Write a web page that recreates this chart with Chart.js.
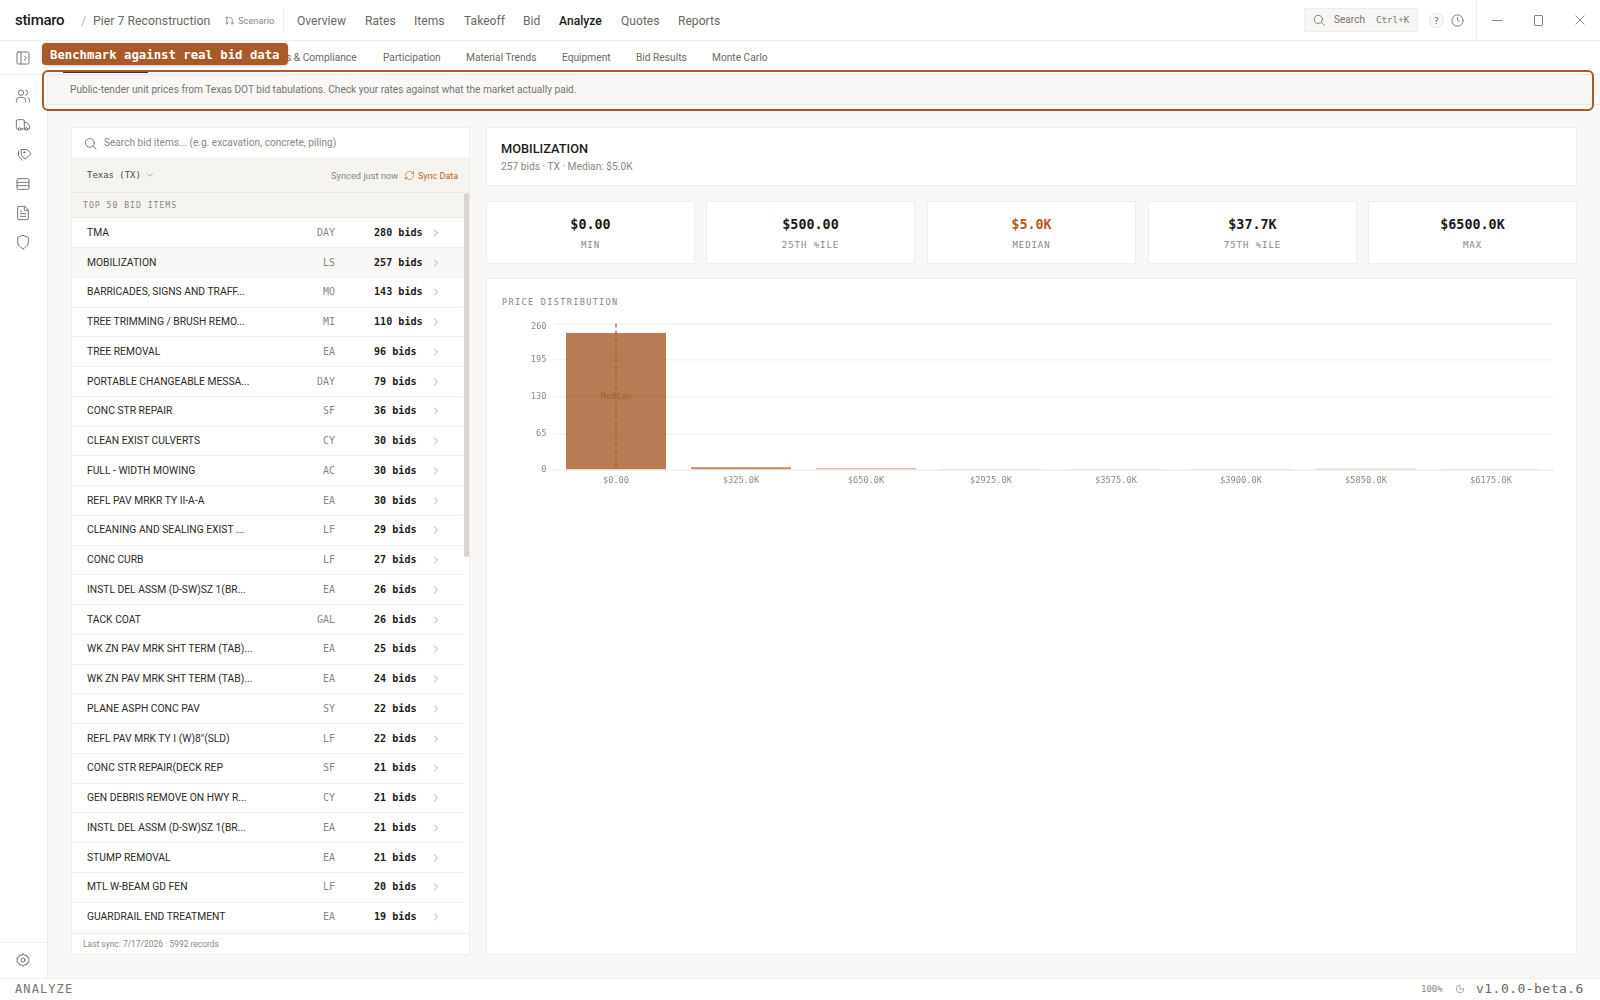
<!DOCTYPE html>
<html>
<head>
<meta charset="utf-8">
<title>Analyze - Bid Benchmark</title>
<script src="https://cdn.jsdelivr.net/npm/chart.js@4"></script>
<style>
  html, body { margin: 0; padding: 0; background: #f9f8f6; }
  #app { position: relative; width: 1600px; height: 1000px; overflow: hidden; font-family: Roboto, "Noto Sans", sans-serif; color: #1c1b19; }
  .box { position: absolute; box-sizing: border-box; }
  .t { position: absolute; white-space: nowrap; line-height: 16px; height: 16px; }
  .mono { font-family: "DejaVu Sans Mono", "Liberation Mono", monospace; }
  .card { background: #fff; border: 1px solid #efeeeb; }
  svg.ic { position: absolute; fill: none; stroke: #6f6c67; stroke-width: 1.4; stroke-linecap: round; stroke-linejoin: round; }
  #chartWrap { position: absolute; left: 490px; top: 310px; width: 1080px; height: 190px; }
</style>
</head>
<body>
<div id="app">
  <div id="chartWrap"><canvas id="priceChart"></canvas></div>
</div>
<script>
// chart data
const binLabels = ['$0.00', '$325.0K', '$650.0K', '$2925.0K', '$3575.0K', '$3900.0K', '$5850.0K', '$6175.0K'];
const binCounts = [243, 5, 3, 1, 1, 1, 2, 1];
const binOpacity = [0.8, 0.7, 0.55, 0.3, 0.3, 0.3, 0.5, 0.3];
const yTicks = [0, 65, 130, 195, 260];
const medianBin = '$0.00';

// side list
const itemNames = ['TMA', 'MOBILIZATION', 'BARRICADES, SIGNS AND TRAFF...', 'TREE TRIMMING / BRUSH REMO...', 'TREE REMOVAL',
  'PORTABLE CHANGEABLE MESSA...', 'CONC STR REPAIR', 'CLEAN EXIST CULVERTS', 'FULL - WIDTH MOWING', 'REFL PAV MRKR TY II-A-A',
  'CLEANING AND SEALING EXIST ...', 'CONC CURB', 'INSTL DEL ASSM (D-SW)SZ 1(BR...', 'TACK COAT', 'WK ZN PAV MRK SHT TERM (TAB)...',
  'WK ZN PAV MRK SHT TERM (TAB)...', 'PLANE ASPH CONC PAV', 'REFL PAV MRK TY I (W)8"(SLD)', 'CONC STR REPAIR(DECK REP',
  'GEN DEBRIS REMOVE ON HWY R...', 'INSTL DEL ASSM (D-SW)SZ 1(BR...', 'STUMP REMOVAL', 'MTL W-BEAM GD FEN', 'GUARDRAIL END TREATMENT'];
const itemUnits = ['DAY', 'LS', 'MO', 'MI', 'EA', 'DAY', 'SF', 'CY', 'AC', 'EA', 'LF', 'LF', 'EA', 'GAL', 'EA', 'EA', 'SY', 'LF', 'SF', 'CY', 'EA', 'EA', 'LF', 'EA'];
const itemBids = [280, 257, 143, 110, 96, 79, 36, 30, 30, 30, 29, 27, 26, 26, 25, 24, 22, 22, 21, 21, 21, 21, 20, 19];

// stat cards
const statValues = ['$0.00', '$500.00', '$5.0K', '$37.7K', '$6500.0K'];
const statLabels = ['MIN', '25TH %ILE', 'MEDIAN', '75TH %ILE', 'MAX'];

const app = document.getElementById('app');
const ACCENT = '#a85a28';
const MONO = '"DejaVu Sans Mono", "Liberation Mono", monospace';

function box(x, y, w, h, css, cls) {
  const d = document.createElement('div');
  d.className = 'box ' + (cls || '');
  d.style.cssText = `left:${x}px;top:${y}px;width:${w}px;height:${h}px;${css || ''}`;
  app.appendChild(d);
  return d;
}
// y is the vertical centre of the line, align l/c/r is relative to x
function txt(s, x, y, css, cls, align) {
  const d = document.createElement('div');
  d.className = 't ' + (cls || '');
  d.textContent = s;
  const shift = align === 'c' ? 'translateX(-50%)' : align === 'r' ? 'translateX(-100%)' : 'none';
  d.style.cssText = `left:${x}px;top:${y - 8}px;transform:${shift};${css || ''}`;
  app.appendChild(d);
  return d;
}
function icon(paths, cx, cy, size, css) {
  const s = size || 16;
  const wrap = document.createElement('div');
  wrap.innerHTML = `<svg class="ic" viewBox="0 0 24 24" width="${s}" height="${s}" style="left:${cx - s / 2}px;top:${cy - s / 2}px;${css || ''}">${paths}</svg>`;
  app.appendChild(wrap.firstChild);
}

// top bar
box(0, 0, 1600, 41, 'background:#fff;border-bottom:1px solid #eeedea');
txt('stimaro', 15, 20, 'font-size:15px;font-weight:500;letter-spacing:-.3px;color:#1c1b19');
txt('/', 81, 21, 'font-size:13px;color:#bbb');
txt('Pier 7 Reconstruction', 93, 21, 'font-size:12.3px;color:#6b6863');
icon('<circle cx="6" cy="6" r="2"/><circle cx="6" cy="18" r="2"/><circle cx="18" cy="18" r="2"/><path d="M6 8v8M18 16V9a3 3 0 0 0-3-3h-3"/>', 229, 20, 11);
txt('Scenario', 238, 21, 'font-size:9.3px;color:#8a8781');
box(283, 9, 1, 23, 'background:#eeedea');
const navNames = ['Overview', 'Rates', 'Items', 'Takeoff', 'Bid', 'Analyze', 'Quotes', 'Reports'];
const navX = [297, 365, 414, 464, 523, 559, 621, 678];
navNames.forEach((n, i) => txt(n, navX[i], 21, 'font-size:12.1px;' + (n === 'Analyze' ? 'font-weight:500;color:#1c1b19' : 'color:#6b6863')));

box(1304, 8, 114, 24, 'background:#f7f6f4;border:1px solid #efeeeb');
icon('<circle cx="11" cy="11" r="7"/><path d="M21 21l-4.5-4.5"/>', 1319, 20, 14);
txt('Search', 1334, 20, 'font-size:10.1px;color:#77746e');
txt('Ctrl+K', 1376, 20, 'font-size:9.2px;color:#77746e', 'mono');
box(1429, 13, 15, 15, 'border:1px solid #e6e5e2;border-radius:50%;background:#faf9f8');
txt('?', 1436.5, 20.5, 'font-size:9px;color:#6b6863', 'mono', 'c');
icon('<circle cx="12" cy="12" r="9"/><path d="M12 7v5l3 2"/>', 1457, 20, 15);
box(1476, 0, 1, 40, 'background:#eeedea');
box(1492, 20, 10, 1, 'background:#8a8781');
box(1534, 15, 9, 11, 'border:1px solid #8a8781;border-radius:1px');
icon('<path d="M5 5l14 14M19 5L5 19"/>', 1580, 20, 14);

// sub tabs + rail
box(0, 41, 1600, 34, 'background:#fff;border-bottom:1px solid #eeedea');
box(63, 71, 85, 2, 'background:#3a3835');
const tabNames = ['s & Compliance', 'Participation', 'Material Trends', 'Equipment', 'Bid Results', 'Monte Carlo'];
const tabX = [286, 383, 466, 562, 636, 712];
tabNames.forEach((n, i) => txt(n, tabX[i], 57.5, 'font-size:10.2px;color:#6b6863'));

box(0, 75, 48, 903, 'background:#fff;border-right:1px solid #eeedea');
box(0, 942, 47, 1, 'background:#eeedea');
icon('<rect x="3" y="3" width="18" height="18" rx="2"/><path d="M9 3v18M14 9l3 3-3 3"/>', 23, 57.5, 16);
icon('<circle cx="9" cy="7" r="4"/><path d="M2 21v-2a5 5 0 0 1 5-5h4a5 5 0 0 1 5 5v2M16 3.1a4 4 0 0 1 0 7.8M22 21v-2a5 5 0 0 0-3-4.6"/>', 23, 96, 16);
icon('<path d="M14 18V6a2 2 0 0 0-2-2H4a2 2 0 0 0-2 2v11a1 1 0 0 0 1 1h2M15 18H9M19 18h2a1 1 0 0 0 1-1v-3.6a1 1 0 0 0-.2-.6l-3.5-4.4a1 1 0 0 0-.8-.4H14"/><circle cx="7" cy="18" r="2"/><circle cx="17" cy="18" r="2"/>', 23, 125, 16);
icon('<path d="M9 5l7.5 0a2 2 0 0 1 1.4.6l3.5 3.5a2 2 0 0 1 0 2.8l-5.6 5.6a2 2 0 0 1-2.8 0L9.6 14A2 2 0 0 1 9 12.6z"/><path d="M5 7v6.5a2 2 0 0 0 .6 1.4l5 5"/><circle cx="13" cy="9" r="1"/>', 23, 154, 17);
icon('<rect x="3" y="4" width="18" height="16" rx="2"/><path d="M3 9.5h18M3 14.5h18"/>', 23, 183.5, 16);
icon('<path d="M14 2H6a2 2 0 0 0-2 2v16a2 2 0 0 0 2 2h12a2 2 0 0 0 2-2V8z"/><path d="M14 2v6h6M16 13H8M16 17H8M10 9H8"/>', 23, 212.5, 16);
icon('<path d="M12 22s8-3 8-10V5l-8-3-8 3v7c0 7 8 10 8 10z"/>', 23, 242, 16);
icon('<circle cx="12" cy="12" r="3"/><path d="M12 2.5l2 2.6 3.2-.6 1 3.1 3 1.2-.9 3.2.9 3.2-3 1.2-1 3.1-3.2-.6-2 2.6-2-2.6-3.2.6-1-3.1-3-1.2.9-3.2-.9-3.2 3-1.2 1-3.1 3.2.6z"/>', 23, 960, 16);

// banner with highlight ring
box(48, 74, 1552, 31, 'background:#f9f8f6;border-top:1px solid #e9e8e5;border-bottom:1px solid #e9e8e5');
txt('Public-tender unit prices from Texas DOT bid tabulations. Check your rates against what the market actually paid.', 70, 89.5, 'font-size:10.15px;color:#77746e');
box(42, 70, 1552, 41, `border:2px solid ${ACCENT};border-radius:6px`);
box(42, 43, 246, 22, `background:${ACCENT};border-radius:4px;box-shadow:0 1px 3px rgba(0,0,0,.2)`);
txt('Benchmark against real bid data', 50, 54.5, 'font-size:12.3px;font-weight:700;color:#fff', 'mono');

// list panel
box(71, 127, 399, 828, '', 'card');
icon('<circle cx="11" cy="11" r="7"/><path d="M21 21l-4.5-4.5"/>', 90, 143, 15);
txt('Search bid items... (e.g. excavation, concrete, piling)', 104, 143, 'font-size:10.1px;color:#8a8781');
box(72, 157, 397, 60, 'background:#f5f4f1');
box(72, 192, 392, 1, 'background:#e9e8e5');
box(72, 217, 392, 1, 'background:#e9e8e5');
txt('Texas (TX)', 87, 174.5, 'font-size:8.95px;color:#4d4b47', 'mono');
icon('<path d="M6 9l6 6 6-6"/>', 150, 174.5, 10);
txt('Synced just now', 331, 176, 'font-size:9.3px;color:#8a8781');
icon('<path d="M3 12a9 9 0 0 1 15-6.7L21 8M21 3v5h-5M21 12a9 9 0 0 1-15 6.7L3 16M3 21v-5h5"/>', 409, 175, 11, `stroke:#c0632a`);
txt('Sync Data', 418, 176, 'font-size:9px;color:#c0632a');
txt('TOP 50 BID ITEMS', 83, 205, 'font-size:8.2px;letter-spacing:.95px;color:#8a8781', 'mono');
box(464, 193, 5, 364, 'background:#d8d5d0;border-radius:2px');

itemNames.forEach((name, i) => {
  const top = 218 + i * 29.75;
  if (name === 'MOBILIZATION') box(72, top, 392, 29.75, 'background:#f9f8f6');
  box(72, top + 29, 392, 1, 'background:#f3f2ef');
  const cy = top + 14.8;
  txt(name, 87, cy, 'font-size:10.3px;color:#2c2a27');
  txt(itemUnits[i], 335, cy, 'font-size:10px;color:#8a8781', 'mono', 'r');
  txt(itemBids[i] + ' bids', 374, cy, 'font-size:10.1px;font-weight:700;color:#1c1b19', 'mono');
  icon('<path d="M9 6l6 6-6 6"/>', 436, cy, 12, i < 1 ? '' : 'stroke:#8a8781');
});
box(72, 933, 397, 21, 'background:#fff;border-top:1px solid #eeedea');
txt('Last sync: 7/17/2026 · 5992 records', 83, 944, 'font-size:8.45px;color:#8a8781');

// detail header
box(486, 127, 1091, 59, '', 'card');
txt('MOBILIZATION', 501, 148.5, 'font-size:12.8px;font-weight:500;color:#1c1b19');
txt('257 bids · TX · Median: $5.0K', 501, 166.5, 'font-size:10.2px;color:#8a8781');

// stat cards
const statX = [486, 706, 927, 1148, 1368];
const statW = [209, 209, 209, 209, 209];
statValues.forEach((v, i) => {
  box(statX[i], 201, statW[i], 63, '', 'card');
  const cx = statX[i] + statW[i] / 2;
  txt(v, cx, 224.5, `font-size:13.4px;font-weight:700;color:${statLabels[i] === 'MEDIAN' ? '#b5591f' : '#1c1b19'}`, 'mono', 'c');
  txt(statLabels[i], cx, 245, 'font-size:9px;letter-spacing:.95px;color:#8a8781', 'mono', 'c');
});

// chart card sits behind the canvas
const chartCard = box(486, 278, 1091, 677, '', 'card');
app.insertBefore(chartCard, document.getElementById('chartWrap'));
txt('PRICE DISTRIBUTION', 502, 301.5, 'font-size:8.6px;letter-spacing:1.3px;color:#8a8781', 'mono');

// status bar
box(0, 978, 1600, 22, 'background:#fff;border-top:1px solid #eeedea');
txt('ANALYZE', 15, 989, 'font-size:12px;letter-spacing:1.1px;color:#77746e', 'mono');
txt('100%', 1421, 989, 'font-size:9px;color:#8a8781', 'mono');
icon('<path d="M21 12a9 9 0 1 1-9-9v9z"/>', 1460, 989, 10);
txt('v1.0.0-beta.6', 1476, 989, 'font-size:13px;letter-spacing:.47px;color:#6b6863', 'mono');

// dashed marker and label on the bin holding the median,
// plus the top y label which sits a little under its grid line
const medianLine = {
  id: 'medianLine',
  afterDatasetsDraw(chart) {
    const { ctx, chartArea, scales } = chart;
    const x = scales.x.getPixelForValue(binLabels.indexOf(medianBin));
    ctx.save();
    ctx.strokeStyle = 'rgba(168,90,40,.6)';
    ctx.lineWidth = 2;
    ctx.setLineDash([4, 3]);
    ctx.beginPath();
    ctx.moveTo(x, chartArea.top);
    ctx.lineTo(x, chartArea.bottom);
    ctx.stroke();
    ctx.setLineDash([]);
    ctx.fillStyle = '#a4602f';
    ctx.font = `8.6px ${MONO}`;
    ctx.textAlign = 'center';
    ctx.textBaseline = 'middle';
    ctx.fillText('Median', x, scales.y.getPixelForValue(130));
    ctx.fillStyle = '#8e8c88';
    ctx.textAlign = 'right';
    ctx.fillText(String(yTicks[yTicks.length - 1]), chartArea.left - 7, scales.y.getPixelForValue(260) + 3.5);
    ctx.restore();
  }
};

new Chart(document.getElementById('priceChart'), {
  type: 'bar',
  data: {
    labels: binLabels,
    datasets: [{
      label: 'Bids',
      data: binCounts,
      backgroundColor: binOpacity.map(a => `rgba(168,90,40,${a})`),
      categoryPercentage: 0.8,
      barPercentage: 1,
      minBarLength: 1
    }]
  },
  options: {
    responsive: true,
    maintainAspectRatio: false,
    animation: false,
    layout: { padding: { top: 13.5, right: 16.5, left: 0, bottom: 0 } },
    plugins: { legend: { display: false }, tooltip: { enabled: false } },
    scales: {
      x: {
        grid: { display: false, drawTicks: false },
        border: { color: '#f0efed', width: 2, z: -1 },
        ticks: { color: '#8e8c88', font: { family: MONO, size: 8.7 }, padding: 6, maxRotation: 0, autoSkip: false },
        afterFit(scale) { scale.height = 30; }
      },
      y: {
        min: 0,
        max: 260,
        afterBuildTicks(scale) { scale.ticks = yTicks.map(v => ({ value: v })); },
        grid: { color: '#f5f4f2', lineWidth: 1.5, drawTicks: false },
        border: { display: false },
        ticks: {
          color: ctx => (ctx.tick.value === 260 ? 'rgba(0,0,0,0)' : '#8e8c88'),
          font: { family: MONO, size: 8.7 },
          padding: 7
        },
        afterFit(scale) { scale.width = 63.5; }
      }
    }
  },
  plugins: [medianLine]
});
</script>
</body>
</html>
